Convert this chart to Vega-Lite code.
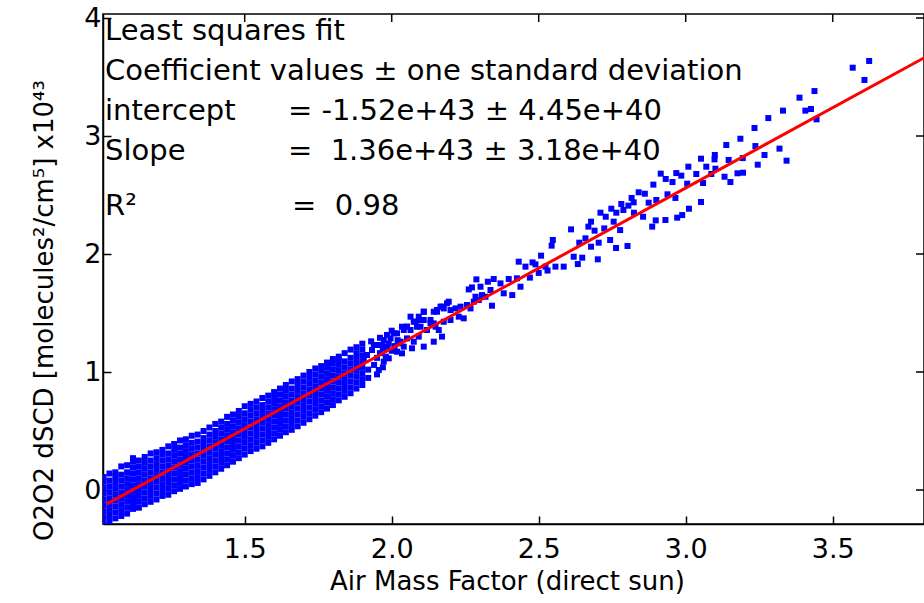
{
  "$schema": "https://vega.github.io/schema/vega-lite/v6.json",
  "width": 821,
  "height": 510,
  "autosize": {"type": "none"},
  "padding": {"left": 103, "top": 14, "right": 0, "bottom": 79},
  "background": "white",
  "config": {
    "view": {"stroke": "black", "strokeWidth": 1.5},
    "font": "DejaVu Sans",
    "axis": {
      "grid": false,
      "domainColor": "black",
      "domainWidth": 1.5,
      "tickColor": "black",
      "tickWidth": 1.5,
      "tickSize": -8,
      "labelColor": "black",
      "labelFont": "DejaVu Sans",
      "labelFontSize": 27,
      "titleColor": "black",
      "titleFont": "DejaVu Sans",
      "titleFontSize": 26,
      "titleFontWeight": "normal"
    }
  },
  "datasets": {
    "pts": [
      {"x":1.02,"y":-0.28},{"x":1.02,"y":-0.23},{"x":1.02,"y":-0.18},{"x":1.02,"y":-0.13},{"x":1.02,"y":-0.08},{"x":1.02,"y":-0.03},{"x":1.02,"y":0.02},{"x":1.02,"y":0.07},{"x":1.02,"y":0.11},
      {"x":1.04,"y":-0.27},{"x":1.04,"y":-0.22},{"x":1.04,"y":-0.17},{"x":1.04,"y":-0.12},{"x":1.04,"y":-0.07},{"x":1.04,"y":-0.02},{"x":1.04,"y":0.03},{"x":1.04,"y":0.08},{"x":1.04,"y":0.14},
      {"x":1.06,"y":-0.24},{"x":1.06,"y":-0.19},{"x":1.06,"y":-0.14},{"x":1.06,"y":-0.09},{"x":1.06,"y":-0.04},{"x":1.06,"y":0.01},{"x":1.06,"y":0.06},{"x":1.06,"y":0.11},{"x":1.06,"y":0.15},
      {"x":1.08,"y":-0.22},{"x":1.08,"y":-0.17},{"x":1.08,"y":-0.12},{"x":1.08,"y":-0.07},{"x":1.08,"y":-0.02},{"x":1.08,"y":0.03},{"x":1.08,"y":0.08},{"x":1.08,"y":0.13},{"x":1.08,"y":0.20},
      {"x":1.10,"y":-0.20},{"x":1.10,"y":-0.15},{"x":1.10,"y":-0.10},{"x":1.10,"y":-0.05},{"x":1.10,"y":0.00},{"x":1.10,"y":0.05},{"x":1.10,"y":0.10},{"x":1.10,"y":0.15},{"x":1.10,"y":0.21},
      {"x":1.12,"y":-0.16},{"x":1.12,"y":-0.11},{"x":1.12,"y":-0.06},{"x":1.12,"y":-0.01},{"x":1.12,"y":0.04},{"x":1.12,"y":0.09},{"x":1.12,"y":0.14},{"x":1.12,"y":0.19},{"x":1.12,"y":0.24},{"x":1.12,"y":0.27},
      {"x":1.14,"y":-0.15},{"x":1.14,"y":-0.10},{"x":1.14,"y":-0.05},{"x":1.14,"y":0.00},{"x":1.14,"y":0.05},{"x":1.14,"y":0.10},{"x":1.14,"y":0.15},{"x":1.14,"y":0.20},{"x":1.14,"y":0.25},
      {"x":1.16,"y":-0.12},{"x":1.16,"y":-0.07},{"x":1.16,"y":-0.02},{"x":1.16,"y":0.03},{"x":1.16,"y":0.08},{"x":1.16,"y":0.13},{"x":1.16,"y":0.18},{"x":1.16,"y":0.23},{"x":1.16,"y":0.28},
      {"x":1.18,"y":-0.10},{"x":1.18,"y":-0.05},{"x":1.18,"y":0.00},{"x":1.18,"y":0.05},{"x":1.18,"y":0.10},{"x":1.18,"y":0.15},{"x":1.18,"y":0.20},{"x":1.18,"y":0.25},{"x":1.18,"y":0.31},
      {"x":1.20,"y":-0.08},{"x":1.20,"y":-0.03},{"x":1.20,"y":0.02},{"x":1.20,"y":0.07},{"x":1.20,"y":0.12},{"x":1.20,"y":0.17},{"x":1.20,"y":0.22},{"x":1.20,"y":0.27},{"x":1.20,"y":0.32},
      {"x":1.22,"y":-0.05},{"x":1.22,"y":0.00},{"x":1.22,"y":0.05},{"x":1.22,"y":0.10},{"x":1.22,"y":0.15},{"x":1.22,"y":0.20},{"x":1.22,"y":0.25},{"x":1.22,"y":0.30},{"x":1.22,"y":0.34},
      {"x":1.24,"y":-0.04},{"x":1.24,"y":0.01},{"x":1.24,"y":0.06},{"x":1.24,"y":0.11},{"x":1.24,"y":0.16},{"x":1.24,"y":0.21},{"x":1.24,"y":0.26},{"x":1.24,"y":0.31},{"x":1.24,"y":0.37},
      {"x":1.26,"y":-0.01},{"x":1.26,"y":0.04},{"x":1.26,"y":0.09},{"x":1.26,"y":0.14},{"x":1.26,"y":0.19},{"x":1.26,"y":0.24},{"x":1.26,"y":0.29},{"x":1.26,"y":0.34},{"x":1.26,"y":0.39},
      {"x":1.28,"y":0.01},{"x":1.28,"y":0.06},{"x":1.28,"y":0.11},{"x":1.28,"y":0.16},{"x":1.28,"y":0.21},{"x":1.28,"y":0.26},{"x":1.28,"y":0.31},{"x":1.28,"y":0.36},{"x":1.28,"y":0.42},
      {"x":1.30,"y":0.03},{"x":1.30,"y":0.08},{"x":1.30,"y":0.13},{"x":1.30,"y":0.18},{"x":1.30,"y":0.23},{"x":1.30,"y":0.28},{"x":1.30,"y":0.33},{"x":1.30,"y":0.38},{"x":1.30,"y":0.43},
      {"x":1.32,"y":0.05},{"x":1.32,"y":0.10},{"x":1.32,"y":0.15},{"x":1.32,"y":0.20},{"x":1.32,"y":0.25},{"x":1.32,"y":0.30},{"x":1.32,"y":0.35},{"x":1.32,"y":0.40},{"x":1.32,"y":0.46},
      {"x":1.34,"y":0.06},{"x":1.34,"y":0.11},{"x":1.34,"y":0.16},{"x":1.34,"y":0.21},{"x":1.34,"y":0.26},{"x":1.34,"y":0.31},{"x":1.34,"y":0.36},{"x":1.34,"y":0.41},{"x":1.34,"y":0.47},
      {"x":1.36,"y":0.09},{"x":1.36,"y":0.14},{"x":1.36,"y":0.19},{"x":1.36,"y":0.24},{"x":1.36,"y":0.29},{"x":1.36,"y":0.34},{"x":1.36,"y":0.39},{"x":1.36,"y":0.44},{"x":1.36,"y":0.50},
      {"x":1.38,"y":0.12},{"x":1.38,"y":0.17},{"x":1.38,"y":0.22},{"x":1.38,"y":0.27},{"x":1.38,"y":0.32},{"x":1.38,"y":0.37},{"x":1.38,"y":0.42},{"x":1.38,"y":0.47},{"x":1.38,"y":0.53},
      {"x":1.40,"y":0.15},{"x":1.40,"y":0.20},{"x":1.40,"y":0.25},{"x":1.40,"y":0.30},{"x":1.40,"y":0.35},{"x":1.40,"y":0.40},{"x":1.40,"y":0.45},{"x":1.40,"y":0.50},{"x":1.40,"y":0.56},
      {"x":1.42,"y":0.18},{"x":1.42,"y":0.23},{"x":1.42,"y":0.28},{"x":1.42,"y":0.33},{"x":1.42,"y":0.38},{"x":1.42,"y":0.43},{"x":1.42,"y":0.48},{"x":1.42,"y":0.53},{"x":1.42,"y":0.58},
      {"x":1.44,"y":0.21},{"x":1.44,"y":0.26},{"x":1.44,"y":0.31},{"x":1.44,"y":0.36},{"x":1.44,"y":0.41},{"x":1.44,"y":0.46},{"x":1.44,"y":0.51},{"x":1.44,"y":0.56},{"x":1.44,"y":0.62},
      {"x":1.46,"y":0.24},{"x":1.46,"y":0.29},{"x":1.46,"y":0.34},{"x":1.46,"y":0.39},{"x":1.46,"y":0.44},{"x":1.46,"y":0.49},{"x":1.46,"y":0.54},{"x":1.46,"y":0.59},{"x":1.46,"y":0.64},
      {"x":1.48,"y":0.27},{"x":1.48,"y":0.32},{"x":1.48,"y":0.37},{"x":1.48,"y":0.42},{"x":1.48,"y":0.47},{"x":1.48,"y":0.52},{"x":1.48,"y":0.57},{"x":1.48,"y":0.62},{"x":1.48,"y":0.67},
      {"x":1.50,"y":0.30},{"x":1.50,"y":0.35},{"x":1.50,"y":0.40},{"x":1.50,"y":0.45},{"x":1.50,"y":0.50},{"x":1.50,"y":0.55},{"x":1.50,"y":0.60},{"x":1.50,"y":0.65},{"x":1.50,"y":0.71},
      {"x":1.52,"y":0.33},{"x":1.52,"y":0.38},{"x":1.52,"y":0.43},{"x":1.52,"y":0.48},{"x":1.52,"y":0.53},{"x":1.52,"y":0.58},{"x":1.52,"y":0.63},{"x":1.52,"y":0.68},{"x":1.52,"y":0.73},
      {"x":1.54,"y":0.35},{"x":1.54,"y":0.40},{"x":1.54,"y":0.45},{"x":1.54,"y":0.50},{"x":1.54,"y":0.55},{"x":1.54,"y":0.60},{"x":1.54,"y":0.65},{"x":1.54,"y":0.70},{"x":1.54,"y":0.75},
      {"x":1.56,"y":0.37},{"x":1.56,"y":0.42},{"x":1.56,"y":0.47},{"x":1.56,"y":0.52},{"x":1.56,"y":0.57},{"x":1.56,"y":0.62},{"x":1.56,"y":0.67},{"x":1.56,"y":0.72},{"x":1.56,"y":0.78},
      {"x":1.58,"y":0.40},{"x":1.58,"y":0.45},{"x":1.58,"y":0.50},{"x":1.58,"y":0.55},{"x":1.58,"y":0.60},{"x":1.58,"y":0.65},{"x":1.58,"y":0.70},{"x":1.58,"y":0.75},{"x":1.58,"y":0.80},
      {"x":1.60,"y":0.43},{"x":1.60,"y":0.48},{"x":1.60,"y":0.53},{"x":1.60,"y":0.58},{"x":1.60,"y":0.63},{"x":1.60,"y":0.68},{"x":1.60,"y":0.73},{"x":1.60,"y":0.78},{"x":1.60,"y":0.83},
      {"x":1.62,"y":0.46},{"x":1.62,"y":0.51},{"x":1.62,"y":0.56},{"x":1.62,"y":0.61},{"x":1.62,"y":0.66},{"x":1.62,"y":0.71},{"x":1.62,"y":0.76},{"x":1.62,"y":0.81},{"x":1.62,"y":0.86},
      {"x":1.64,"y":0.49},{"x":1.64,"y":0.54},{"x":1.64,"y":0.59},{"x":1.64,"y":0.64},{"x":1.64,"y":0.69},{"x":1.64,"y":0.74},{"x":1.64,"y":0.79},{"x":1.64,"y":0.84},{"x":1.64,"y":0.89},
      {"x":1.66,"y":0.51},{"x":1.66,"y":0.56},{"x":1.66,"y":0.61},{"x":1.66,"y":0.66},{"x":1.66,"y":0.71},{"x":1.66,"y":0.76},{"x":1.66,"y":0.81},{"x":1.66,"y":0.86},{"x":1.66,"y":0.92},
      {"x":1.68,"y":0.54},{"x":1.68,"y":0.59},{"x":1.68,"y":0.64},{"x":1.68,"y":0.69},{"x":1.68,"y":0.74},{"x":1.68,"y":0.79},{"x":1.68,"y":0.84},{"x":1.68,"y":0.89},{"x":1.68,"y":0.94},
      {"x":1.70,"y":0.57},{"x":1.70,"y":0.62},{"x":1.70,"y":0.67},{"x":1.70,"y":0.72},{"x":1.70,"y":0.77},{"x":1.70,"y":0.82},{"x":1.70,"y":0.87},{"x":1.70,"y":0.92},{"x":1.70,"y":0.97},
      {"x":1.72,"y":0.60},{"x":1.72,"y":0.65},{"x":1.72,"y":0.70},{"x":1.72,"y":0.75},{"x":1.72,"y":0.80},{"x":1.72,"y":0.85},{"x":1.72,"y":0.90},{"x":1.72,"y":0.95},{"x":1.72,"y":1.00},
      {"x":1.74,"y":0.63},{"x":1.74,"y":0.68},{"x":1.74,"y":0.73},{"x":1.74,"y":0.78},{"x":1.74,"y":0.83},{"x":1.74,"y":0.88},{"x":1.74,"y":0.93},{"x":1.74,"y":0.98},{"x":1.74,"y":1.03},
      {"x":1.76,"y":0.66},{"x":1.76,"y":0.71},{"x":1.76,"y":0.76},{"x":1.76,"y":0.81},{"x":1.76,"y":0.86},{"x":1.76,"y":0.91},{"x":1.76,"y":0.96},{"x":1.76,"y":1.01},{"x":1.76,"y":1.05},
      {"x":1.78,"y":0.69},{"x":1.78,"y":0.74},{"x":1.78,"y":0.79},{"x":1.78,"y":0.84},{"x":1.78,"y":0.89},{"x":1.78,"y":0.94},{"x":1.78,"y":0.99},{"x":1.78,"y":1.04},{"x":1.78,"y":1.08},
      {"x":1.80,"y":0.72},{"x":1.80,"y":0.77},{"x":1.80,"y":0.82},{"x":1.80,"y":0.87},{"x":1.80,"y":0.92},{"x":1.80,"y":0.97},{"x":1.80,"y":1.02},{"x":1.80,"y":1.07},{"x":1.80,"y":1.11},
      {"x":1.82,"y":0.76},{"x":1.82,"y":0.81},{"x":1.82,"y":0.86},{"x":1.82,"y":0.91},{"x":1.82,"y":0.96},{"x":1.82,"y":1.01},{"x":1.82,"y":1.06},{"x":1.82,"y":1.10},{"x":1.82,"y":1.13},
      {"x":1.84,"y":0.79},{"x":1.84,"y":0.84},{"x":1.84,"y":0.89},{"x":1.84,"y":0.94},{"x":1.84,"y":0.99},{"x":1.84,"y":1.04},{"x":1.84,"y":1.09},{"x":1.84,"y":1.16},
      {"x":1.86,"y":0.82},{"x":1.86,"y":0.87},{"x":1.86,"y":0.92},{"x":1.86,"y":0.97},{"x":1.86,"y":1.02},{"x":1.86,"y":1.07},{"x":1.86,"y":1.12},{"x":1.86,"y":1.19},
      {"x":1.88,"y":0.86},{"x":1.88,"y":0.91},{"x":1.88,"y":0.96},{"x":1.88,"y":1.01},{"x":1.88,"y":1.06},{"x":1.88,"y":1.11},{"x":1.88,"y":1.16},{"x":1.88,"y":1.21},
      {"x":1.90,"y":0.89},{"x":1.90,"y":0.94},{"x":1.90,"y":0.99},{"x":1.90,"y":1.04},{"x":1.90,"y":1.09},{"x":1.90,"y":1.14},{"x":1.90,"y":1.19},{"x":1.90,"y":1.24},
      {"x":1.905,"y":1.102},{"x":1.916,"y":1.144},{"x":1.933,"y":1.186},{"x":1.939,"y":1.229},{"x":1.950,"y":1.229},{"x":1.967,"y":1.229},{"x":1.973,"y":1.271},{"x":1.984,"y":1.314},{"x":1.996,"y":1.285},{"x":2.007,"y":1.328},{"x":1.984,"y":1.215},{"x":1.990,"y":1.116},{"x":1.973,"y":1.088},{"x":1.956,"y":1.017},{"x":1.888,"y":1.045},
      {"x":1.92,"y":0.95},{"x":1.92,"y":1.02},{"x":1.93,"y":1.26},{"x":1.94,"y":1.06},{"x":1.95,"y":1.12},{"x":1.96,"y":1.16},{"x":1.96,"y":1.29},{"x":1.97,"y":1.20},{"x":1.98,"y":1.13},{"x":1.99,"y":1.24},{"x":2.00,"y":1.18},{"x":2.00,"y":1.35},{"x":2.01,"y":1.22},{"x":2.02,"y":1.27},{"x":1.95,"y":0.98},{"x":1.97,"y":1.04},
      {"x":2.188,"y":1.582},{"x":2.171,"y":1.554},{"x":2.154,"y":1.526},{"x":2.143,"y":1.511},{"x":2.109,"y":1.511},{"x":2.098,"y":1.441},{"x":2.081,"y":1.427},{"x":2.052,"y":1.384},{"x":2.064,"y":1.356},{"x":2.041,"y":1.356},{"x":2.132,"y":1.412},{"x":2.149,"y":1.384},{"x":2.160,"y":1.356},{"x":2.171,"y":1.300},{"x":2.143,"y":1.257},{"x":2.109,"y":1.215},{"x":2.069,"y":1.201},{"x":2.035,"y":1.158},{"x":2.018,"y":1.172},
      {"x":2.109,"y":1.441},{"x":2.086,"y":1.384},{"x":2.120,"y":1.356},{"x":2.092,"y":1.300},{"x":2.052,"y":1.285},{"x":2.030,"y":1.257},{"x":2.075,"y":1.257},{"x":2.041,"y":1.215},{"x":2.018,"y":1.328},{"x":2.024,"y":1.243},{"x":2.064,"y":1.469},
      {"x":2.288,"y":1.785},{"x":2.302,"y":1.723},{"x":2.327,"y":1.765},{"x":2.347,"y":1.788},{"x":2.336,"y":1.695},{"x":2.319,"y":1.638},{"x":2.307,"y":1.652},{"x":2.341,"y":1.562},{"x":2.296,"y":1.610},{"x":2.279,"y":1.596},{"x":2.262,"y":1.700},{"x":2.273,"y":1.717},{"x":2.370,"y":1.751},{"x":2.381,"y":1.667},{"x":2.398,"y":1.788},{"x":2.410,"y":1.652},{"x":2.426,"y":1.794},{"x":2.432,"y":1.935},{"x":2.438,"y":1.723},
      {"x":2.035,"y":1.384},{"x":2.052,"y":1.384},{"x":2.075,"y":1.426},{"x":2.092,"y":1.469},{"x":2.109,"y":1.511},{"x":2.132,"y":1.441},{"x":2.154,"y":1.511},{"x":2.166,"y":1.554},{"x":2.177,"y":1.539},{"x":2.194,"y":1.596},{"x":2.200,"y":1.525},{"x":2.217,"y":1.539},{"x":2.234,"y":1.554},{"x":2.245,"y":1.455},{"x":2.228,"y":1.469},{"x":2.256,"y":1.568},{"x":2.268,"y":1.539},{"x":2.285,"y":1.638},{"x":2.143,"y":1.412},{"x":2.177,"y":1.426},{"x":2.098,"y":1.384},{"x":2.200,"y":1.441},
      {"x":2.610,"y":2.209},{"x":2.548,"y":2.119},{"x":2.544,"y":2.071},{"x":2.508,"y":1.986},{"x":2.479,"y":1.929},{"x":2.455,"y":1.893},{"x":2.489,"y":1.912},{"x":2.523,"y":1.893},{"x":2.557,"y":1.893},{"x":2.585,"y":1.893},{"x":2.619,"y":1.977},{"x":2.633,"y":1.915},{"x":2.648,"y":1.969},{"x":2.638,"y":2.096},{"x":2.659,"y":2.133},{"x":2.678,"y":2.062},{"x":2.669,"y":2.232},{"x":2.678,"y":2.274},{"x":2.690,"y":2.198},{"x":2.701,"y":1.955},{"x":2.704,"y":2.096},{"x":2.710,"y":2.350},
      {"x":2.47,"y":1.80},{"x":2.50,"y":1.84},{"x":2.53,"y":1.86},
      {"x":3.568,"y":3.579},{"x":3.624,"y":3.636},{"x":3.608,"y":3.475},{"x":3.387,"y":3.325},{"x":3.438,"y":3.381},{"x":3.331,"y":3.215},{"x":3.281,"y":3.152},{"x":3.407,"y":3.215},{"x":3.426,"y":3.229},{"x":3.445,"y":3.141},
      {"x":3.234,"y":3.068},{"x":3.186,"y":2.977},{"x":3.138,"y":2.924},{"x":3.237,"y":2.915},{"x":3.268,"y":2.839},{"x":3.319,"y":2.893},{"x":3.343,"y":2.791},{"x":3.245,"y":2.757},{"x":3.194,"y":2.813},{"x":3.146,"y":2.797},
      {"x":3.099,"y":2.839},{"x":3.098,"y":2.802},{"x":3.052,"y":2.808},{"x":3.070,"y":2.740},{"x":3.009,"y":2.740},{"x":2.968,"y":2.686},{"x":2.985,"y":2.664},{"x":3.036,"y":2.678},{"x":3.101,"y":2.723},{"x":3.087,"y":2.678},
      {"x":3.132,"y":2.655},{"x":3.152,"y":2.610},{"x":3.176,"y":2.684},{"x":3.195,"y":2.689},{"x":2.915,"y":2.681},{"x":2.932,"y":2.636},{"x":2.955,"y":2.610},{"x":3.005,"y":2.596},{"x":3.059,"y":2.602},{"x":2.890,"y":2.588},
      {"x":2.840,"y":2.523},{"x":2.861,"y":2.511},{"x":2.816,"y":2.475},{"x":2.823,"y":2.438},{"x":2.805,"y":2.410},{"x":2.781,"y":2.424},{"x":2.747,"y":2.384},{"x":2.728,"y":2.316},{"x":2.764,"y":2.350},{"x":2.788,"y":2.373},
      {"x":2.824,"y":2.350},{"x":2.755,"y":2.274},{"x":2.723,"y":2.217},{"x":2.777,"y":2.203},{"x":2.855,"y":2.316},{"x":2.874,"y":2.435},{"x":2.900,"y":2.458},{"x":2.938,"y":2.506},{"x":2.965,"y":2.475},{"x":2.898,"y":2.285},
      {"x":2.886,"y":2.232},{"x":2.931,"y":2.288},{"x":2.971,"y":2.308},{"x":2.988,"y":2.330},{"x":3.011,"y":2.384},{"x":3.052,"y":2.441},{"x":2.743,"y":2.119},{"x":2.763,"y":2.051},{"x":2.802,"y":2.068}
    ],
    "fit": [{"x": 1.03, "y": -0.1192}, {"x": 3.83, "y": 3.6888}],
    "xt": [{"v": 1.5}, {"v": 2.0}, {"v": 2.5}, {"v": 3.0}, {"v": 3.5}],
    "yt": [{"v": 0}, {"v": 1}, {"v": 2}, {"v": 3}, {"v": 4}]
  },
  "layer": [
    {
      "data": {"name": "pts"},
      "mark": {"type": "square", "size": 36, "color": "#0000FF", "filled": true, "opacity": 1, "clip": true},
      "encoding": {
        "x": {
          "field": "x", "type": "quantitative",
          "scale": {"domain": [1.018, 3.8105], "nice": false, "zero": false},
          "axis": {"values": [1.5, 2.0, 2.5, 3.0, 3.5], "format": ".1f", "labelPadding": 20,
                   "title": "Air Mass Factor (direct sun)", "titleX": 404, "titleY": 65, "titleBaseline": "alphabetic"}
        },
        "y": {
          "field": "y", "type": "quantitative",
          "scale": {"domain": [-0.288, 4.034], "nice": false, "zero": false},
          "axis": {"values": [0, 1, 2, 3, 4], "format": "d", "labelPadding": 10,
                   "title": "O2O2 dSCD [molecules²/cm⁵]  x10⁴³", "titleX": -51, "titleY": 296, "titleBaseline": "alphabetic", "titleAngle": -90}
        }
      }
    },
    {
      "data": {"name": "fit"},
      "mark": {"type": "line", "color": "#FF0000", "strokeWidth": 3, "clip": true},
      "encoding": {
        "x": {"field": "x", "type": "quantitative"},
        "y": {"field": "y", "type": "quantitative"}
      }
    },
    {
      "data": {"name": "xt"},
      "mark": {"type": "tick", "orient": "vertical", "size": 16, "thickness": 1.5, "color": "black", "clip": true, "opacity": 1},
      "encoding": {
        "x": {"field": "v", "type": "quantitative"},
        "y": {"datum": 4.034, "type": "quantitative"}
      }
    },
    {
      "data": {"name": "yt"},
      "mark": {"type": "tick", "orient": "horizontal", "size": 16, "thickness": 1.5, "color": "black", "clip": true, "opacity": 1},
      "encoding": {
        "y": {"field": "v", "type": "quantitative"},
        "x": {"datum": 3.8105, "type": "quantitative"}
      }
    },
    {
      "data": {"values": [{}]},
      "mark": {"type": "text", "align": "left", "baseline": "alphabetic", "fontSize": 29, "font": "DejaVu Sans", "color": "black"},
      "encoding": {"x": {"datum": 1.025, "type": "quantitative"}, "y": {"datum": 3.8136, "type": "quantitative"}, "text": {"value": "Least squares fit"}}
    },
    {
      "data": {"values": [{}]},
      "mark": {"type": "text", "align": "left", "baseline": "alphabetic", "fontSize": 29, "font": "DejaVu Sans", "color": "black"},
      "encoding": {"x": {"datum": 1.025, "type": "quantitative"}, "y": {"datum": 3.4746, "type": "quantitative"}, "text": {"value": "Coefficient values ± one standard deviation"}}
    },
    {
      "data": {"values": [{}]},
      "mark": {"type": "text", "align": "left", "baseline": "alphabetic", "fontSize": 29, "font": "DejaVu Sans", "color": "black"},
      "encoding": {"x": {"datum": 1.025, "type": "quantitative"}, "y": {"datum": 3.1356, "type": "quantitative"}, "text": {"value": "intercept"}}
    },
    {
      "data": {"values": [{}]},
      "mark": {"type": "text", "align": "left", "baseline": "alphabetic", "fontSize": 29, "font": "DejaVu Sans", "color": "black"},
      "encoding": {"x": {"datum": 1.025, "type": "quantitative"}, "y": {"datum": 2.7966, "type": "quantitative"}, "text": {"value": "Slope"}}
    },
    {
      "data": {"values": [{}]},
      "mark": {"type": "text", "align": "left", "baseline": "alphabetic", "fontSize": 29, "font": "DejaVu Sans", "color": "black"},
      "encoding": {"x": {"datum": 1.025, "type": "quantitative"}, "y": {"datum": 2.3305, "type": "quantitative"}, "text": {"value": "R²"}}
    },
    {
      "data": {"values": [{}]},
      "mark": {"type": "text", "align": "left", "baseline": "alphabetic", "fontSize": 29, "font": "DejaVu Sans", "color": "black"},
      "encoding": {"x": {"datum": 1.647, "type": "quantitative"}, "y": {"datum": 3.1356, "type": "quantitative"}, "text": {"value": "= -1.52e+43 ± 4.45e+40"}}
    },
    {
      "data": {"values": [{}]},
      "mark": {"type": "text", "align": "left", "baseline": "alphabetic", "fontSize": 29, "font": "DejaVu Sans", "color": "black"},
      "encoding": {"x": {"datum": 1.647, "type": "quantitative"}, "y": {"datum": 2.7966, "type": "quantitative"}, "text": {"value": "= \u00a01.36e+43 ± 3.18e+40"}}
    },
    {
      "data": {"values": [{}]},
      "mark": {"type": "text", "align": "left", "baseline": "alphabetic", "fontSize": 29, "font": "DejaVu Sans", "color": "black"},
      "encoding": {"x": {"datum": 1.661, "type": "quantitative"}, "y": {"datum": 2.3305, "type": "quantitative"}, "text": {"value": "= \u00a00.98"}}
    }
  ]
}
